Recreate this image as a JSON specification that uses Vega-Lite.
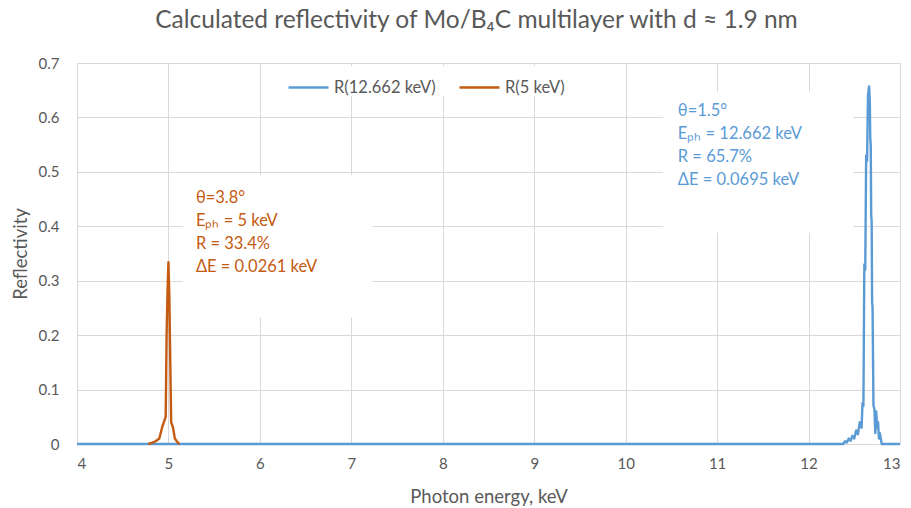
{
  "$schema": "https://vega.github.io/schema/vega-lite/v6.json",
  "width": 823,
  "height": 381,
  "autosize": "none",
  "padding": {"left": 77, "top": 63, "right": 11, "bottom": 64},
  "background": "white",
  "config": {
    "font": "Lato",
    "view": {"stroke": null},
    "axis": {
      "labelColor": "#595959",
      "titleColor": "#595959",
      "labelFont": "Lato",
      "titleFont": "Lato",
      "labelFontSize": 15,
      "titleFontSize": 18.5,
      "titleFontWeight": "normal",
      "gridColor": "#D9D9D9",
      "gridWidth": 1,
      "ticks": false
    }
  },
  "title": {
    "text": "Calculated reflectivity of Mo/B₄C multilayer with d ≈ 1.9 nm",
    "font": "Lato",
    "fontSize": 24.5,
    "fontWeight": "normal",
    "color": "#595959",
    "anchor": "middle",
    "frame": "group",
    "offset": 23,
    "dx": -12
  },
  "datasets": {
    "curves": [
      {"E": 4.0, "R": 0, "s": "R(12.662 keV)"},
      {"E": 12.35, "R": 0, "s": "R(12.662 keV)"},
      {"E": 12.38, "R": 0.0, "s": "R(12.662 keV)"},
      {"E": 12.40, "R": 0.005, "s": "R(12.662 keV)"},
      {"E": 12.42, "R": 0.003, "s": "R(12.662 keV)"},
      {"E": 12.44, "R": 0.01, "s": "R(12.662 keV)"},
      {"E": 12.46, "R": 0.006, "s": "R(12.662 keV)"},
      {"E": 12.48, "R": 0.015, "s": "R(12.662 keV)"},
      {"E": 12.50, "R": 0.01, "s": "R(12.662 keV)"},
      {"E": 12.52, "R": 0.025, "s": "R(12.662 keV)"},
      {"E": 12.54, "R": 0.018, "s": "R(12.662 keV)"},
      {"E": 12.56, "R": 0.04, "s": "R(12.662 keV)"},
      {"E": 12.58, "R": 0.03, "s": "R(12.662 keV)"},
      {"E": 12.59, "R": 0.075, "s": "R(12.662 keV)"},
      {"E": 12.60, "R": 0.07, "s": "R(12.662 keV)"},
      {"E": 12.61, "R": 0.33, "s": "R(12.662 keV)"},
      {"E": 12.62, "R": 0.32, "s": "R(12.662 keV)"},
      {"E": 12.63, "R": 0.53, "s": "R(12.662 keV)"},
      {"E": 12.64, "R": 0.52, "s": "R(12.662 keV)"},
      {"E": 12.65, "R": 0.64, "s": "R(12.662 keV)"},
      {"E": 12.662, "R": 0.657, "s": "R(12.662 keV)"},
      {"E": 12.67, "R": 0.63, "s": "R(12.662 keV)"},
      {"E": 12.675, "R": 0.56, "s": "R(12.662 keV)"},
      {"E": 12.68, "R": 0.55, "s": "R(12.662 keV)"},
      {"E": 12.685, "R": 0.42, "s": "R(12.662 keV)"},
      {"E": 12.69, "R": 0.41, "s": "R(12.662 keV)"},
      {"E": 12.695, "R": 0.26, "s": "R(12.662 keV)"},
      {"E": 12.70, "R": 0.25, "s": "R(12.662 keV)"},
      {"E": 12.71, "R": 0.07, "s": "R(12.662 keV)"},
      {"E": 12.72, "R": 0.065, "s": "R(12.662 keV)"},
      {"E": 12.73, "R": 0.02, "s": "R(12.662 keV)"},
      {"E": 12.74, "R": 0.06, "s": "R(12.662 keV)"},
      {"E": 12.75, "R": 0.03, "s": "R(12.662 keV)"},
      {"E": 12.76, "R": 0.04, "s": "R(12.662 keV)"},
      {"E": 12.77, "R": 0.01, "s": "R(12.662 keV)"},
      {"E": 12.78, "R": 0.02, "s": "R(12.662 keV)"},
      {"E": 12.80, "R": 0, "s": "R(12.662 keV)"},
      {"E": 13.0, "R": 0, "s": "R(12.662 keV)"},
      {"E": 4.78, "R": 0, "s": "R(5 keV)"},
      {"E": 4.82, "R": 0.002, "s": "R(5 keV)"},
      {"E": 4.86, "R": 0.005, "s": "R(5 keV)"},
      {"E": 4.90, "R": 0.01, "s": "R(5 keV)"},
      {"E": 4.93, "R": 0.03, "s": "R(5 keV)"},
      {"E": 4.95, "R": 0.04, "s": "R(5 keV)"},
      {"E": 4.97, "R": 0.05, "s": "R(5 keV)"},
      {"E": 4.98, "R": 0.2, "s": "R(5 keV)"},
      {"E": 4.99, "R": 0.28, "s": "R(5 keV)"},
      {"E": 5.00, "R": 0.334, "s": "R(5 keV)"},
      {"E": 5.01, "R": 0.27, "s": "R(5 keV)"},
      {"E": 5.02, "R": 0.15, "s": "R(5 keV)"},
      {"E": 5.03, "R": 0.04, "s": "R(5 keV)"},
      {"E": 5.05, "R": 0.03, "s": "R(5 keV)"},
      {"E": 5.07, "R": 0.01, "s": "R(5 keV)"},
      {"E": 5.10, "R": 0.003, "s": "R(5 keV)"},
      {"E": 5.12, "R": 0, "s": "R(5 keV)"}
    ],
    "boxes": [
      {"x1": 5.16, "x2": 7.23, "y1": 0.232, "y2": 0.494},
      {"x1": 10.41, "x2": 12.49, "y1": 0.388, "y2": 0.647}
    ],
    "notes": [
      {"E": 5.30, "R": 0.466, "s": "R(5 keV)", "t": "θ=3.8°\nEₚₕ = 5 keV\nR = 33.4%\nΔE = 0.0261 keV"},
      {"E": 10.57, "R": 0.627, "s": "R(12.662 keV)", "t": "θ=1.5°\nEₚₕ = 12.662 keV\nR = 65.7%\nΔE = 0.0695 keV"}
    ]
  },
  "layer": [
    {
      "data": {"name": "boxes"},
      "mark": {"type": "rect", "fill": "white"},
      "encoding": {
        "x": {"field": "x1", "type": "quantitative", "scale": {"domain": [4, 13], "nice": false}},
        "x2": {"field": "x2"},
        "y": {"field": "y1", "type": "quantitative", "scale": {"domain": [0, 0.7], "nice": false}},
        "y2": {"field": "y2"}
      }
    },
    {
      "data": {"name": "curves"},
      "mark": {"type": "line", "strokeWidth": 2.4, "strokeJoin": "round"},
      "encoding": {
        "x": {
          "field": "E", "type": "quantitative",
          "scale": {"domain": [4, 13], "nice": false},
          "axis": {
            "title": "Photon energy, keV",
            "values": [4, 5, 6, 7, 8, 9, 10, 11, 12, 13],
            "format": "d",
            "grid": true,
            "domainColor": "#D9D9D9",
            "labelPadding": 12,
            "titlePadding": 16
          }
        },
        "y": {
          "field": "R", "type": "quantitative",
          "scale": {"domain": [0, 0.7], "nice": false},
          "axis": {
            "title": "Reflectivity",
            "values": [0, 0.1, 0.2, 0.3, 0.4, 0.5, 0.6, 0.7],
            "format": "~g",
            "grid": true,
            "domain": false,
            "labelPadding": 18,
            "titlePadding": 8
          }
        },
        "color": {
          "field": "s", "type": "nominal",
          "scale": {"domain": ["R(12.662 keV)", "R(5 keV)"], "range": ["#5B9BD5", "#C55A11"]},
          "legend": {
            "title": null,
            "orient": "none",
            "direction": "horizontal",
            "legendX": 210,
            "legendY": 3,
            "fillColor": "white",
            "padding": 0,
            "symbolType": "stroke",
            "symbolSize": 1600,
            "symbolStrokeWidth": 2.4,
            "labelFont": "Lato",
            "labelFontSize": 16.5,
            "labelColor": "#595959",
            "labelOffset": 4,
            "columnPadding": 18
          }
        }
      }
    },
    {
      "data": {"name": "notes"},
      "mark": {"type": "text", "align": "left", "baseline": "top", "fontSize": 16.5, "lineHeight": 23, "lineBreak": "\n", "font": "Lato"},
      "encoding": {
        "x": {"field": "E", "type": "quantitative"},
        "y": {"field": "R", "type": "quantitative"},
        "text": {"field": "t"},
        "color": {"field": "s", "type": "nominal", "legend": null}
      }
    }
  ]
}
